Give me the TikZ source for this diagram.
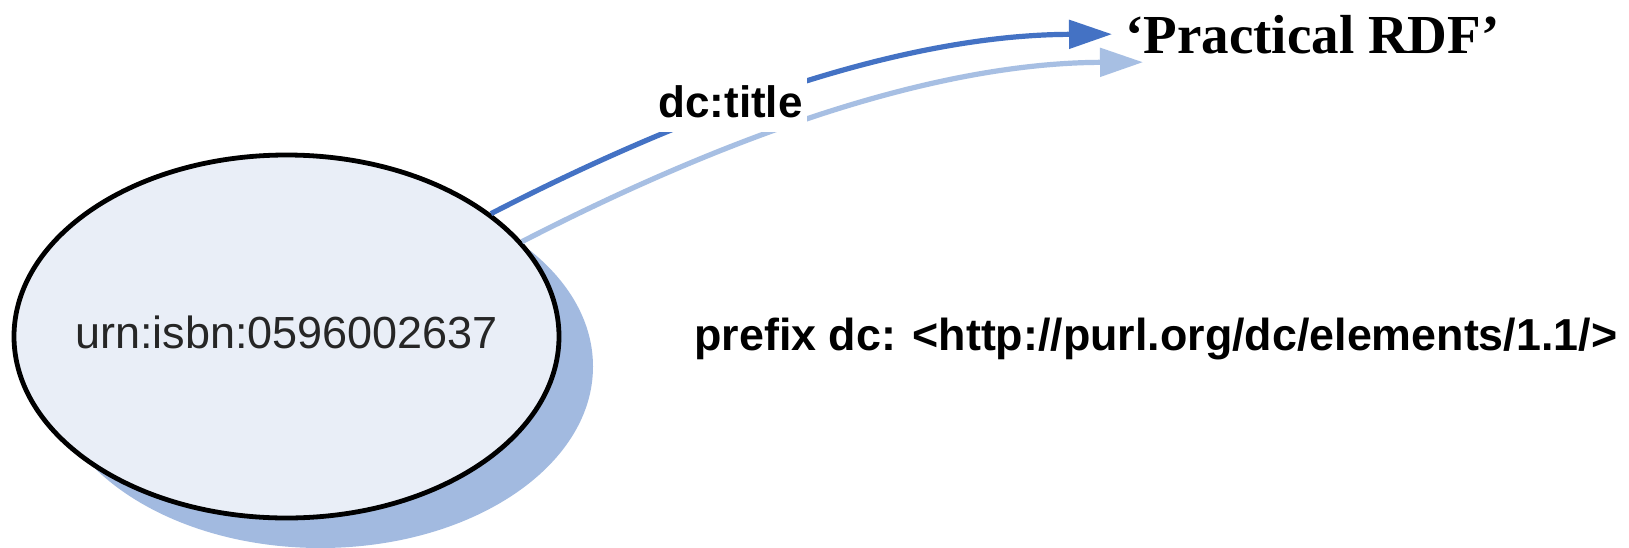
\documentclass[tikz,border=0pt]{standalone}
\usepackage{fontspec}
\setmainfont{Liberation Serif}
\setsansfont{Liberation Sans}
\usetikzlibrary{arrows.meta,shapes.geometric,shadows}
\definecolor{relblue}{HTML}{4472C4}
\definecolor{relshade}{HTML}{A7BFE3}
\definecolor{nodeshade}{HTML}{A2BAE0}
\definecolor{nodefill}{HTML}{E9EEF7}
\definecolor{urntext}{HTML}{262626}
\tikzset{
  resource/.style={ellipse, draw=black, line width=2.4pt, fill=nodefill,
    minimum width=272.5pt, minimum height=181.5pt, inner sep=0pt,
    drop shadow={shadow xshift=17pt, shadow yshift=-15pt, fill=nodeshade, opacity=1}},
  urn/.style={inner sep=0pt, text=urntext, font=\sffamily\fontsize{22.5pt}{27pt}\selectfont},
  literal/.style={inner sep=6.5pt, font=\bfseries\fontsize{27.5pt}{33pt}\selectfont},
  propname/.style={fill=white, inner xsep=2pt, inner ysep=7.5pt,
    font=\sffamily\bfseries\fontsize{22pt}{26pt}\selectfont},
  rel/.style={line width=2.6pt, -{Triangle[length=21.5pt,width=14pt]}}
}
\begin{document}
\begin{tikzpicture}[x=0.5pt, y=-0.5pt]
	\fill[white] (0,0) rectangle (1629,547);
	\useasboundingbox (0,0) rectangle (1629,547);
	\node[resource] (isbn) at (286.5,336.5) {};
	\node[urn, anchor=base] (isbnname) at (286.5,348) {urn:isbn:0596002637};
	\node[literal, anchor=base west] (title) at (1112,53) {‘Practical RDF’};
	\node[anchor=base west, inner sep=0pt, font=\sffamily\bfseries\fontsize{22.4pt}{27pt}\selectfont] (prefix) at (694,350) {prefix dc: <http://purl.org/dc/elements/1.1/>};
	% shadow of the arc, then the arc itself
	\draw[rel, relshade, transform canvas={shift={(31,28)}}] (isbn.31) .. controls (615,150) and (860,35) .. (title.west);
	\draw[rel, relblue] (isbn.31) .. controls (615,150) and (860,35) .. (title.west);
	\node[propname, anchor=base] (pred) at (730.5,117) {dc:title};
\end{tikzpicture}
\end{document}
